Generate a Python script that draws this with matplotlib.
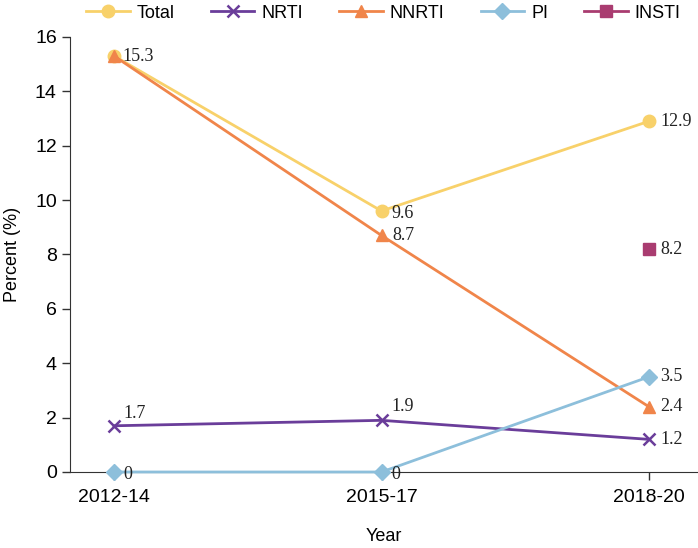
import matplotlib
matplotlib.use("Agg")
import matplotlib.pyplot as plt

years = ["2012-14", "2015-17", "2018-20"]
total = [15.3, 9.6, 12.9]
nrti = [1.7, 1.9, 1.2]
nnrti = [15.3, 8.7, 2.4]
pi = [0.0, 0.0, 3.5]
insti_x = [2]
insti = [8.2]

colors = {
    "Total": "#F8D16A",
    "NRTI": "#6A3D9A",
    "NNRTI": "#F0854A",
    "PI": "#8DBFDB",
    "INSTI": "#A93C70",
}

plt.rcParams["font.family"] = ["Liberation Sans Narrow", "Liberation Sans", "DejaVu Sans"]

fig = plt.figure(figsize=(6.98, 5.48), dpi=100)
ax = fig.add_axes([0.1003, 0.1387, 0.8983, 0.7938])

x = list(range(len(years)))
kw = dict(lw=2, clip_on=False, zorder=3)
ax.plot(x, total, marker="o", ms=9, color=colors["Total"], label="Total", **kw)
ax.plot(x, nrti, marker="x", ms=9, mew=1.8, color=colors["NRTI"], label="NRTI", **kw)
ax.plot(x, nnrti, marker="^", ms=9, color=colors["NNRTI"], label="NNRTI", **kw)
ax.plot(x, pi, marker="D", ms=8, color=colors["PI"], label="PI", **kw)
ax.plot(insti_x, insti, marker="s", ms=8, lw=2, ls="-", color=colors["INSTI"],
        label="INSTI", clip_on=False, zorder=3)

lab = dict(fontsize=13, family=["Liberation Serif", "DejaVu Serif"], va="center", color="#222222")
def put(xi, yi, dx=8, dy=0):
    ax.annotate(f"{yi:g}", (xi, yi), xytext=(dx, dy), textcoords="offset points",
                ha="left", **lab)

put(0, total[0], dx=6)
put(1, total[1], dx=7, dy=-2)
put(2, total[2], dx=8)
put(1, nnrti[1], dx=8)
put(2, nnrti[2], dx=8)
put(0, nrti[0], dx=7, dy=9)
put(1, nrti[1], dx=7, dy=10)
put(2, nrti[2], dx=8)
put(0, pi[0], dx=7, dy=-2)
put(1, pi[1], dx=7, dy=-2)
put(2, pi[2], dx=8)
put(insti_x[0], insti[0], dx=8)

ax.set_xlim(-0.165, 2.18)
ax.set_ylim(0, 16)
ax.set_yticks(range(0, 17, 2))
ax.set_xticks(x)
ax.set_xticklabels(years)
ax.tick_params(axis="both", labelsize=14, length=6, width=1, color="#333333")
ax.tick_params(axis="x", pad=6)
ax.spines["top"].set_visible(False)
ax.spines["right"].set_visible(False)
for s in ("left", "bottom"):
    ax.spines[s].set_color("#333333")
ax.set_xlabel("Year", fontsize=13, labelpad=16)
ax.set_ylabel("Percent (%)", fontsize=13, labelpad=10)

ax.legend(loc="center", bbox_to_anchor=(0.5, 1.055), ncol=5, frameon=False,
          fontsize=13, handlelength=2.4, columnspacing=2.0, handletextpad=0.4)

fig.savefig("out.png", dpi=100)
